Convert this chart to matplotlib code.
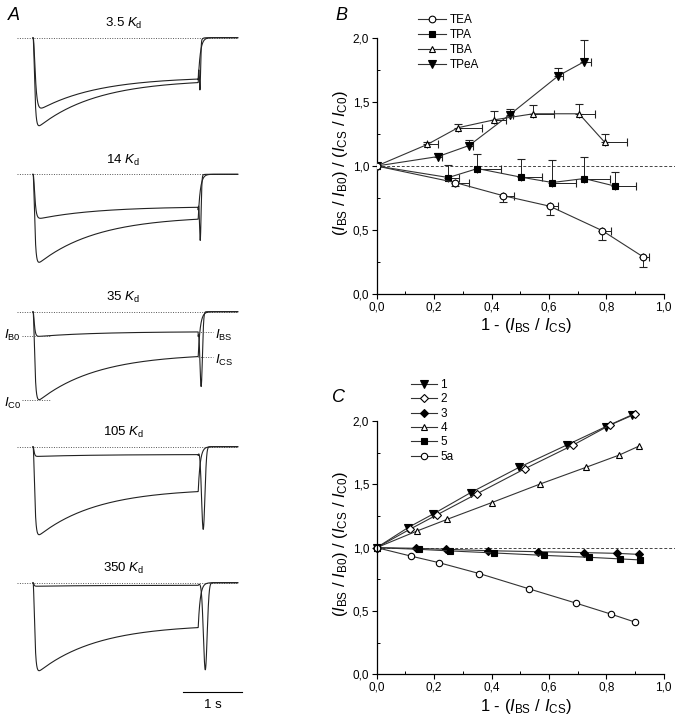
import matplotlib
matplotlib.use('Agg')
import matplotlib.pyplot as plt
from matplotlib.ticker import FuncFormatter, MultipleLocator
import numpy as np

plt.rcParams['font.family'] = ['Liberation Sans', 'DejaVu Sans']
plt.rcParams['mathtext.fontset'] = 'custom'
plt.rcParams['mathtext.rm'] = 'Liberation Sans'
plt.rcParams['mathtext.it'] = 'Liberation Sans:italic'

W, H = 676, 720

# ---- panel A: simulated currents (normalised to control peak) ----
conc_labels = ['3.5', '14', '35', '105', '350']
control_peak = 1.0
control_end = 0.51
blocked_peak = [0.80, 0.50, 0.28, 0.11, 0.04]
blocked_end = [0.47, 0.375, 0.23, 0.09, 0.03]
blocked_rise = [0.025, 0.02, 0.015, 0.012, 0.01]   # s
tail_dip = [0.59, 0.75, 0.85, 0.94, 0.99]
dip_delay = [0.03, 0.035, 0.05, 0.085, 0.12]        # s
dip_width = [0.015, 0.02, 0.03, 0.04, 0.045]        # s
pulse_end = 2.8   # s
trace_end = 3.47  # s

# ---- panel B ----
b_series = {
    'TEA': dict(x=[0, 0.273, 0.439, 0.603, 0.786, 0.927],
                y=[1.0, 0.871, 0.769, 0.686, 0.495, 0.292],
                xe=[0, 0.047, 0.040, 0.029, 0.031, 0.021],
                ye=[0, 0.030, 0.047, 0.068, 0.073, 0.078], down=True),
    'TPA': dict(x=[0, 0.250, 0.351, 0.502, 0.612, 0.723, 0.832],
                y=[1.0, 0.910, 0.980, 0.913, 0.871, 0.902, 0.842],
                xe=[0, 0.038, 0.083, 0.075, 0.081, 0.091, 0.072],
                ye=[0, 0.094, 0.115, 0.138, 0.172, 0.170, 0.115], down=False),
    'TBA': dict(x=[0, 0.176, 0.283, 0.410, 0.546, 0.705, 0.795],
                y=[1.0, 1.168, 1.299, 1.361, 1.408, 1.408, 1.184],
                xe=[0, 0.036, 0.085, 0.041, 0.071, 0.054, 0.076],
                ye=[0, 0.023, 0.026, 0.070, 0.068, 0.078, 0.065], down=False),
    'TPeA': dict(x=[0, 0.214, 0.322, 0.463, 0.633, 0.723],
                 y=[1.0, 1.074, 1.160, 1.400, 1.705, 1.815],
                 xe=[0, 0.015, 0.014, 0.012, 0.016, 0.025],
                 ye=[0, 0.026, 0.044, 0.044, 0.060, 0.172], down=False),
}
b_style = {'TEA': ('o', 'white', 4.8), 'TPA': ('s', 'black', 4.3),
           'TBA': ('^', 'white', 5), 'TPeA': ('v', 'black', 5.2)}

# ---- panel C ----
c_x = {
    '1':  [0, 0.109, 0.197, 0.327, 0.496, 0.663, 0.798, 0.888],
    '2':  [0, 0.117, 0.209, 0.348, 0.517, 0.685, 0.813, 0.899],
    '3':  [0, 0.136, 0.241, 0.388, 0.562, 0.721, 0.837, 0.913],
    '4':  [0, 0.141, 0.246, 0.400, 0.570, 0.729, 0.845, 0.915],
    '5':  [0, 0.146, 0.257, 0.410, 0.584, 0.738, 0.849, 0.918],
    '5a': [0, 0.118, 0.216, 0.358, 0.529, 0.693, 0.818, 0.899],
}
c_y = {
    '1':  [1.0, 1.158, 1.266, 1.434, 1.634, 1.811, 1.955, 2.047],
    '2':  [1.0, 1.147, 1.258, 1.424, 1.624, 1.811, 1.968, 2.053],
    '3':  [1.0, 0.995, 0.987, 0.976, 0.968, 0.961, 0.955, 0.947],
    '4':  [1.0, 1.132, 1.224, 1.355, 1.503, 1.634, 1.731, 1.803],
    '5':  [1.0, 0.987, 0.974, 0.958, 0.939, 0.924, 0.911, 0.903],
    '5a': [1.0, 0.934, 0.882, 0.795, 0.676, 0.563, 0.474, 0.413],
}
c_style = {'1': ('v', 'black', 5.2), '2': ('D', 'white', 4.2), '3': ('D', 'black', 4.2),
           '4': ('^', 'white', 5), '5': ('s', 'black', 4.2), '5a': ('o', 'white', 4.6)}

fig = plt.figure(figsize=(W / 100, H / 100), dpi=100)


def px_axes(left, top, width, height):
    return fig.add_axes([left / W, 1 - (top + height) / H, width / W, height / H])


# ---------------- panel A ----------------
t = np.linspace(0, trace_end, 4000)
on = t <= pulse_end
s = t - pulse_end
sp = np.clip(s, 0, None)
row_base_px = [37.7, 174.3, 311.7, 446.7, 582.7]
unit_px = 88.0
t0_px, px_per_s = 33.0, 59.0
ax_left_px, ax_w_px = 0.0, 260.0
ylo, yhi = -1.2, 0.4


def decay(peak, end, tau=1.0):
    k = (np.exp(-t / tau) - np.exp(-pulse_end / tau)) / (1 - np.exp(-pulse_end / tau))
    return end + (peak - end) * k


def pulse(peak, end, rise):
    act = (1 - np.exp(-t / rise)) ** 3
    p = peak
    for _ in range(6):
        cur = act * decay(p, end)
        p = end + (p - end) * (peak - end) / (cur[on].max() - end)
    return act * decay(p, end)


control = np.where(on, pulse(control_peak, control_end, 0.018),
                   control_end * np.exp(-sp / 0.035))

axes_a = []
for i, lab in enumerate(conc_labels):
    base = row_base_px[i]
    ax = px_axes(ax_left_px, base - yhi * unit_px, ax_w_px, (yhi - ylo) * unit_px)
    ax.set_xlim((ax_left_px - t0_px) / px_per_s, (ax_left_px + ax_w_px - t0_px) / px_per_s)
    ax.set_ylim(ylo, yhi)
    ax.axis('off')
    ax.patch.set_visible(False)

    hook = np.exp(-((sp - dip_delay[i]) / dip_width[i]) ** 2)
    bt = blocked_end[i] * np.exp(-sp / 0.02)
    h_amp = tail_dip[i] - blocked_end[i] * np.exp(-dip_delay[i] / 0.02)
    blocked = np.where(on, pulse(blocked_peak[i], blocked_end[i], blocked_rise[i]),
                       bt + h_amp * hook)

    ax.plot([(17 - t0_px) / px_per_s, (238 - t0_px) / px_per_s], [0, 0],
            ls=(0, (1, 1.5)), lw=0.7, color='#555555')
    ax.plot(t, -control, color='#222222', lw=0.8)
    ax.plot(t, -blocked, color='#222222', lw=0.8)
    ax.text(1.53, 0.16, lab + r' $\mathit{K}_{\mathrm{d}}$', ha='center', va='center',
            fontsize=9.5)
    axes_a.append(ax)

    if lab == '35':
        dots = dict(ls=(0, (1, 1.5)), lw=0.7, color='#555555')
        xl = [(22 - t0_px) / px_per_s, (50 - t0_px) / px_per_s]
        xr = [(198 - t0_px) / px_per_s, (213 - t0_px) / px_per_s]
        ib0 = -blocked[(t > 0.2) & (t < 0.3)].mean()
        ic0 = -control.max()
        ax.plot(xl, [ib0, ib0], **dots)
        ax.plot(xl, [ic0, ic0], **dots)
        ax.plot(xr, [-blocked_end[i]] * 2, **dots)
        ax.plot(xr, [-control_end] * 2, **dots)
        ax.text(xl[0] - 0.02, ib0, r'$\mathit{I}_{\mathrm{B0}}$', ha='right', va='center', fontsize=9.5)
        ax.text(xl[0] - 0.02, ic0 - 0.04, r'$\mathit{I}_{\mathrm{C0}}$', ha='right', va='center', fontsize=9.5)
        ax.text(xr[1] + 0.03, -blocked_end[i] - 0.04, r'$\mathit{I}_{\mathrm{BS}}$', ha='left', va='center', fontsize=9.5)
        ax.text(xr[1] + 0.03, -control_end - 0.04, r'$\mathit{I}_{\mathrm{CS}}$', ha='left', va='center', fontsize=9.5)

# scale bar 1 s
axl = axes_a[-1]
bar_y = -(691.7 - row_base_px[-1]) / unit_px
bar_x0 = (183 - t0_px) / px_per_s
axl.plot([bar_x0, bar_x0 + 1.0], [bar_y, bar_y], color='black', lw=0.8, clip_on=False)
axl.text(bar_x0 + 0.5, bar_y - 0.08, '1 s', ha='center', va='top', fontsize=9.5)

fig.text(8 / W, 1 - 15 / H, 'A', fontsize=13, style='italic', ha='left', va='center')
fig.text(335 / W, 1 - 15 / H, 'B', fontsize=13, style='italic', ha='left', va='center')
fig.text(332 / W, 1 - 397 / H, 'C', fontsize=13, style='italic', ha='left', va='center')

comma = FuncFormatter(lambda v, p: f'{v:.1f}'.replace('.', ','))
ylab = (r'($\mathit{I}_{\mathrm{BS}}$ / $\mathit{I}_{\mathrm{B0}}$) / '
        r'($\mathit{I}_{\mathrm{CS}}$ / $\mathit{I}_{\mathrm{C0}}$)')
xlab = r'1 - ($\mathit{I}_{\mathrm{BS}}$ / $\mathit{I}_{\mathrm{CS}}$)'


def style_xy(ax):
    ax.set_xlim(0, 1.04)
    ax.set_ylim(0, 2.05)
    ax.spines['top'].set_visible(False)
    ax.spines['right'].set_visible(False)
    ax.spines['bottom'].set_bounds(0, 1)
    ax.spines['left'].set_bounds(0, 2)
    for sp_ in ('left', 'bottom'):
        ax.spines[sp_].set_linewidth(0.9)
    ax.set_xticks(np.arange(0, 1.01, 0.2))
    ax.set_yticks(np.arange(0, 2.01, 0.5))
    ax.xaxis.set_minor_locator(MultipleLocator(0.1))
    ax.yaxis.set_minor_locator(MultipleLocator(0.25))
    ax.xaxis.set_major_formatter(comma)
    ax.yaxis.set_major_formatter(comma)
    ax.tick_params(which='major', direction='out', length=3.5, width=0.8, labelsize=8.5, pad=2)
    ax.tick_params(which='minor', direction='in', length=2, width=0.7)
    ax.axhline(1.0, ls=(0, (3, 2)), lw=0.7, color='#444444', zorder=1)
    ax.set_xlabel(xlab, fontsize=12, labelpad=2)
    ax.set_ylabel(ylab, fontsize=12, labelpad=2)


# ---------------- panel B ----------------
axb = px_axes(376.7, 294 - 128 * 2.05, 287 * 1.04, 128 * 2.05)
style_xy(axb)
order = ['TEA', 'TPA', 'TBA', 'TPeA']
z = {'TEA': 6, 'TPA': 4, 'TBA': 5, 'TPeA': 3}
for name in order:
    d = b_series[name]
    mk, fc, ms = b_style[name]
    ye = np.array(d['ye'])
    yerr = [ye, np.zeros_like(ye)] if d['down'] else [np.zeros_like(ye), ye]
    xerr = [np.zeros(len(d['xe'])), np.array(d['xe'])]
    axb.errorbar(d['x'], d['y'], xerr=xerr, yerr=yerr, fmt='-', marker=mk, mfc=fc,
                 mec='black', ms=ms, mew=0.8, color='#333333', lw=0.8, ecolor='#222222',
                 elinewidth=0.7, capsize=3, capthick=0.7, label=name, zorder=z[name])
handles, labels = axb.get_legend_handles_labels()
fig.legend([h[0] for h in handles], labels, loc='upper left',
           bbox_to_anchor=(418 / W, 1 - 14 / H), frameon=False, fontsize=8.5,
           handlelength=2.4, handletextpad=0.3, labelspacing=0.25, borderpad=0,
           borderaxespad=0)

# ---------------- panel C ----------------
axc = px_axes(376.7, 674.3 - 126.65 * 2.05, 287 * 1.04, 126.65 * 2.05)
style_xy(axc)
for name in ['1', '2', '3', '4', '5', '5a']:
    mk, fc, ms = c_style[name]
    axc.plot(c_x[name], c_y[name], '-', marker=mk, mfc=fc, mec='black', ms=ms, mew=0.8,
             color='#333333', lw=0.8, label=name, clip_on=False)
fig.legend(*axc.get_legend_handles_labels(), loc='upper left',
           bbox_to_anchor=(411 / W, 1 - 379 / H), frameon=False, fontsize=8.5,
           handlelength=2.2, handletextpad=0.3, labelspacing=0.2, borderpad=0,
           borderaxespad=0)

fig.savefig('out.png', dpi=100)
